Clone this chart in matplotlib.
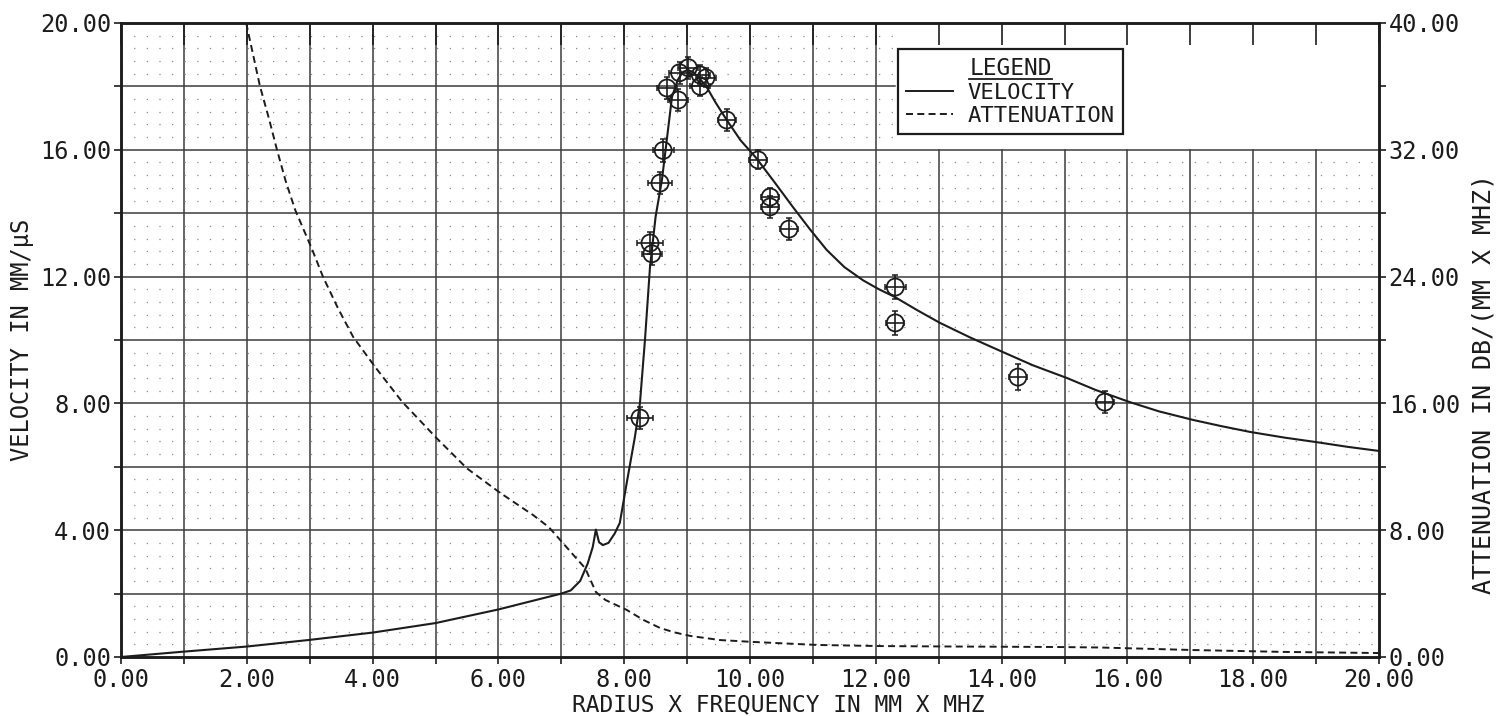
import matplotlib
matplotlib.use("Agg")
import matplotlib.pyplot as plt
from matplotlib.lines import Line2D
from matplotlib.ticker import FixedLocator, FuncFormatter

# Velocity curve (left axis, mm/us) versus radius x frequency (mm x MHz)
vel_x = [0.0, 1.0, 2.0, 3.0, 4.0, 5.0, 6.0, 7.0, 7.15, 7.3, 7.42, 7.5, 7.55,
         7.6, 7.66, 7.75, 7.85, 7.93, 8.04, 8.17, 8.25, 8.33, 8.41, 8.5,
         8.6, 8.76, 8.85, 8.93, 9.01, 9.1, 9.2, 9.32, 9.45, 9.63, 9.85,
         10.1, 10.4, 10.68, 10.95, 11.22, 11.5, 11.8, 12.05, 12.3, 12.65, 13.02,
         13.5, 14.02, 14.5, 15.04, 15.5, 16.04, 16.5, 17.04, 17.5, 17.95,
         18.5, 19.0, 19.5, 20.0]
vel_y = [0.0, 0.17, 0.33, 0.54, 0.77, 1.07, 1.5, 2.0, 2.1, 2.4, 2.95, 3.47, 4.02,
         3.62, 3.53, 3.6, 3.9, 4.23, 5.49, 6.94, 8.0, 10.0, 12.3, 13.9,
         15.05, 17.67, 18.2, 18.45, 18.52, 18.45, 18.25, 17.95, 17.5, 16.94, 16.3,
         15.74, 14.95, 14.2, 13.5, 12.84, 12.3, 11.88, 11.6, 11.36, 10.95, 10.54,
         10.08, 9.62, 9.2, 8.8, 8.42, 8.04, 7.75, 7.48, 7.28, 7.1,
         6.92, 6.78, 6.63, 6.5]

# Attenuation curve (right axis, dB/(mm x MHz))
att_x = [1.99, 2.1, 2.21, 2.35, 2.48, 2.62, 2.77, 3.04, 3.21, 3.45, 3.69,
         4.04, 4.47, 5.02, 5.5, 6.03, 6.55, 6.8, 7.01, 7.2, 7.38, 7.55,
         7.7, 8.04, 8.3, 8.57, 8.8, 9.05, 9.52, 10.05, 11.07, 12.07, 13.3,
         14.9, 15.56, 17.04, 18.5, 20.0]
att_y = [40.0, 38.0, 36.0, 34.0, 32.0, 30.0, 28.2, 25.7, 24.0, 22.0, 20.2,
         18.3, 16.1, 13.8, 11.9, 10.35, 8.96, 8.2, 7.26, 6.4, 5.6, 4.1,
         3.6, 2.97, 2.35, 1.83, 1.55, 1.33, 1.07, 0.95, 0.76, 0.69, 0.66,
         0.63, 0.6, 0.44, 0.32, 0.25]

# Measured velocities with their uncertainties
meas_x = [8.25, 8.41, 8.44, 8.57, 8.62, 8.68, 8.86, 8.88, 9.02, 9.21, 9.30,
          9.21, 9.63, 10.13, 10.32, 10.32, 10.62, 12.31, 12.31, 14.26, 15.64]
meas_v = [7.54, 13.06, 12.72, 14.95, 15.98, 17.95, 17.57, 18.43, 18.59, 18.36,
          18.27, 18.0, 16.94, 15.68, 14.51, 14.2, 13.5, 11.67, 10.54, 8.83, 8.04]
meas_xerr = [0.21, 0.2, 0.16, 0.19, 0.17, 0.16, 0.16, 0.16, 0.16, 0.16, 0.16,
             0.16, 0.14, 0.14, 0.14, 0.14, 0.14, 0.17, 0.14, 0.14, 0.14]
meas_verr = [0.35, 0.35, 0.35, 0.35, 0.35, 0.35, 0.35, 0.35, 0.35, 0.3, 0.3,
             0.3, 0.35, 0.3, 0.3, 0.35, 0.35, 0.37, 0.37, 0.4, 0.35]

x_ticks = list(range(0, 21))
v_ticks = list(range(0, 21, 2))
a_ticks = list(range(0, 41, 4))

INK = "#1c1c1c"
GRID = "#3c3c3c"
DOTS = "#8a8a8a"

plt.rcParams["font.family"] = ["DejaVu Sans Mono"]

W, H = 1497, 716
fig = plt.figure(figsize=(W / 100, H / 100), dpi=100)
fig.patch.set_facecolor("white")
ax = fig.add_axes([121 / W, 59 / H, 1258 / W, 634 / H])
ax.set_xlim(0, 20)
ax.set_ylim(0, 20)

# graph paper: major lines, leaving the upper right block open
for xv in x_ticks[1:-1]:
    top = 20 if xv <= 12 else 16
    ax.plot([xv, xv], [0, top], color=GRID, lw=1.1, zorder=1)
for yv in v_ticks[1:-1]:
    right = 20 if yv <= 16 else 12.3
    ax.plot([0, right], [yv, yv], color=GRID, lw=1.1, zorder=1)
# dotted sub-divisions
for k in range(1, 50):
    yv = k * 0.4
    if abs(yv / 2 - round(yv / 2)) < 1e-6:
        continue
    right = 20 if yv < 16 else 12.3
    ax.plot([0, right], [yv, yv], color=DOTS, lw=0.9,
            dashes=(1, 9.1), zorder=1)

ax.plot(vel_x, vel_y, color=INK, lw=1.5, zorder=3)

ax.errorbar(meas_x, meas_v, xerr=meas_xerr, yerr=meas_verr, fmt="none",
            ecolor=INK, elinewidth=1.2, capsize=2.5, capthick=1.1, zorder=4)
ax.scatter(meas_x, meas_v, s=150, facecolors="none", edgecolors=INK,
           linewidths=1.3, zorder=5)

ax2 = ax.twinx()
ax2.set_ylim(0, 40)
ax2.plot(att_x, att_y, color=INK, lw=1.4, dashes=(3.6, 2.2), zorder=3)

fmt = "{:.2f}"
ax.xaxis.set_major_locator(FixedLocator(x_ticks))
ax.xaxis.set_major_formatter(FuncFormatter(
    lambda v, p: fmt.format(v) if round(v) % 2 == 0 else ""))
ax.yaxis.set_major_locator(FixedLocator(v_ticks))
ax.yaxis.set_major_formatter(FuncFormatter(
    lambda v, p: fmt.format(v) if round(v) % 4 == 0 else ""))
ax2.yaxis.set_major_locator(FixedLocator(a_ticks))
ax2.yaxis.set_major_formatter(FuncFormatter(
    lambda v, p: fmt.format(v) if round(v) % 8 == 0 else ""))

ax.tick_params(axis="both", direction="out", length=5, width=1.2,
               color=INK, labelcolor=INK, labelsize=17)
ax.tick_params(axis="x", pad=3)
ax.tick_params(axis="y", pad=2)
# plotter tick marks hanging from the top border
ax.tick_params(axis="x", which="major", top=True, labeltop=False)
for tick in ax.xaxis.get_major_ticks():
    tick.tick2line.set_markersize(16)
    tick.tick2line.set_marker(3)
ax2.tick_params(axis="y", direction="out", length=5, width=1.2,
                color=INK, labelcolor=INK, labelsize=17, pad=2)

for a in (ax, ax2):
    for s in a.spines.values():
        s.set_color(INK)
        s.set_linewidth(1.8)

fig.text(22 / W, 1 - 340 / H, "VELOCITY IN MM/\u00b5S", rotation=90,
         ha="center", va="center", fontsize=17, color=INK)
fig.text(1483 / W, 1 - 384 / H, "ATTENUATION IN DB/(MM X MHZ)", rotation=90,
         ha="center", va="center", fontsize=18, color=INK)
fig.text(778 / W, 1 - 705 / H, "RADIUS X FREQUENCY IN MM X MHZ",
         ha="center", va="center", fontsize=16.5, color=INK)

handles = [Line2D([], [], color=INK, lw=1.4),
           Line2D([], [], color=INK, lw=1.4, dashes=(3.6, 2.2))]
leg = ax2.legend(handles, ["VELOCITY", "ATTENUATION"],
                 loc="upper left", bbox_to_anchor=(898 / W, 1 - 49 / H),
                 bbox_transform=fig.transFigure, title="LEGEND",
                 title_fontsize=16.5, fontsize=16, frameon=True,
                 fancybox=False, framealpha=1, edgecolor=INK,
                 handlelength=2.1, handletextpad=0.65, labelspacing=0.12,
                 borderpad=0.38, borderaxespad=0)
leg.get_frame().set_linewidth(1.6)
for t in leg.get_texts():
    t.set_color(INK)
leg.get_title().set_color(INK)

# underline the legend heading
fig.canvas.draw()
bb = leg.get_title().get_window_extent()
inv = fig.transFigure.inverted()
(x0, y0), (x1, _) = inv.transform([(bb.x0, bb.y0 + 1), (bb.x1, bb.y0 + 1)])
fig.add_artist(Line2D([x0, x1], [y0, y0], color=INK, lw=1.3,
                      transform=fig.transFigure))

fig.savefig("out.png", dpi=100, facecolor="white")
